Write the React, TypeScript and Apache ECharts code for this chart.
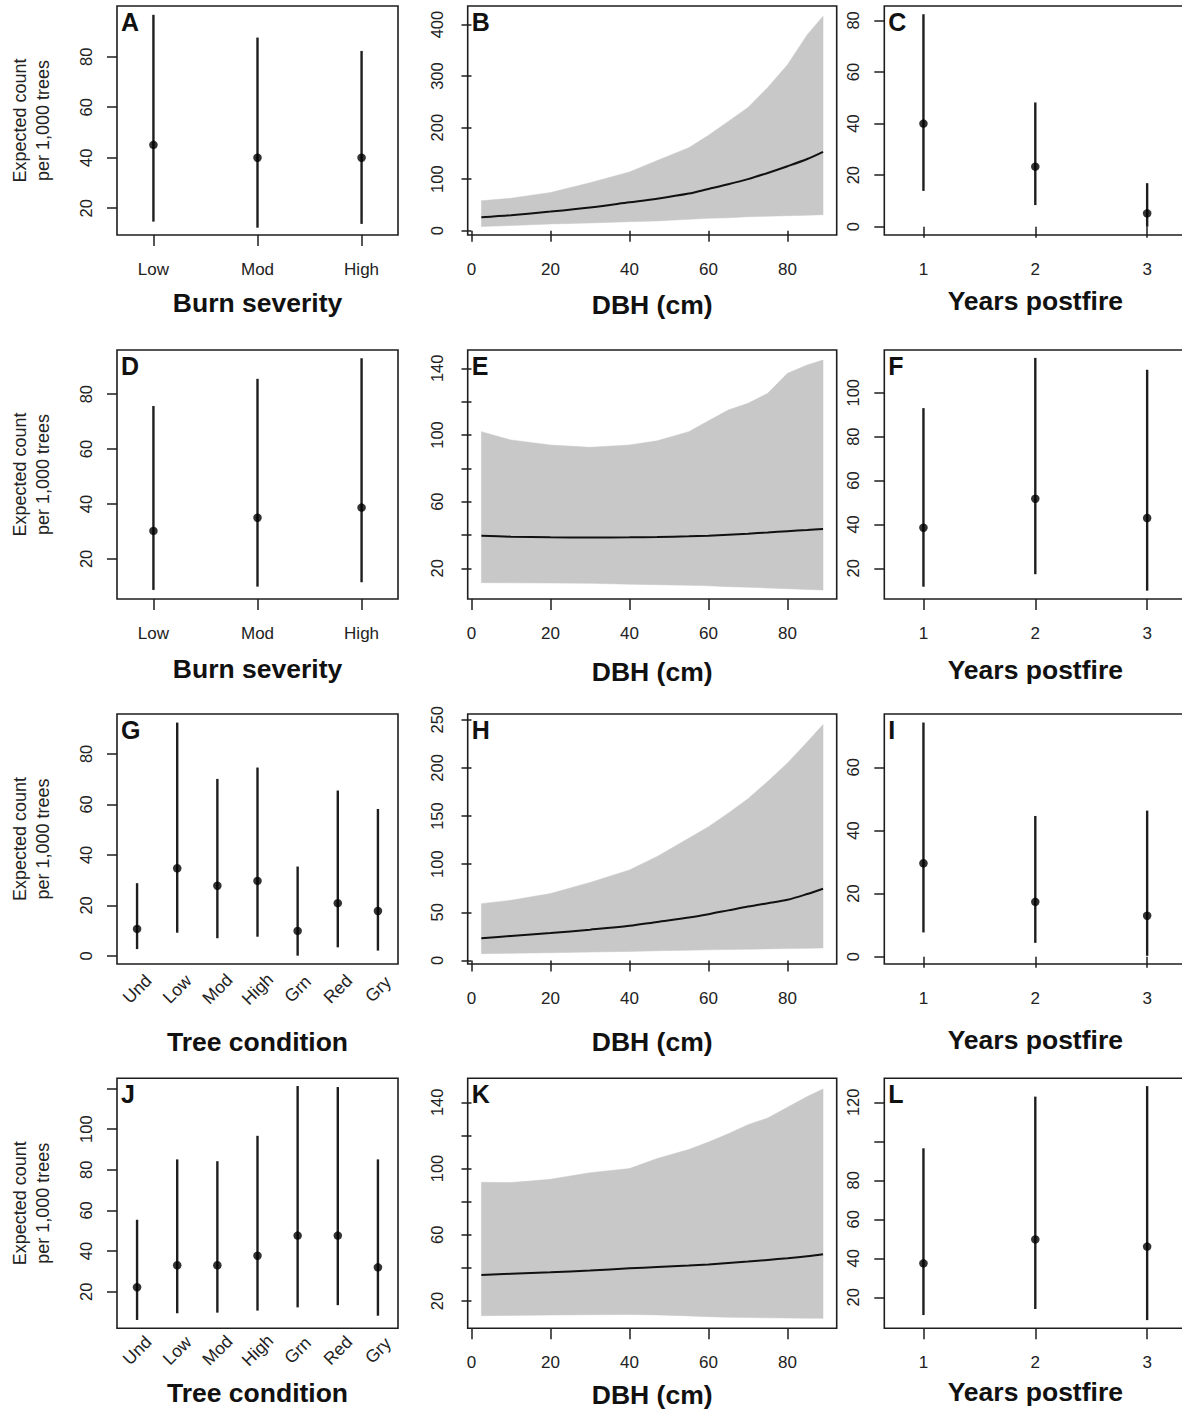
import React, { useEffect, useRef } from 'react';
import * as echarts from 'echarts';

// ---------- DATA ----------
const severityCats = ['Low', 'Mod', 'High'];
const yearCats = ['1', '2', '3'];
const conditionCats = ['Und', 'Low', 'Mod', 'High', 'Grn', 'Red', 'Gry'];

// DBH grid (cm) at which the fitted curves / intervals were read
const dbh = [2.5, 10, 20, 30, 40, 47, 55, 60, 65, 70, 75, 80, 85, 89];

// Panel A: burn severity
const aEst = [45.1, 40.0, 40.0];
const aLo = [14.7, 12.3, 13.8];
const aHi = [96.6, 87.6, 82.3];
// Panel B: DBH
const bMean = [26, 30, 37, 45, 55, 62, 72, 81, 90, 100, 112, 125, 139, 153];
const bLo = [8, 10, 13, 15, 17.5, 19, 22, 24, 25, 27, 28, 29, 30, 31];
const bHi = [58, 63, 74, 93, 114, 136, 161, 185, 212, 239, 278, 322, 380, 416];
// Panel C: years postfire
const cEst = [40.0, 23.3, 5.2];
const cLo = [13.9, 8.4, 0.0];
const cHi = [82.4, 48.2, 16.9];
// Panel D
const dEst = [30.2, 35.0, 38.7];
const dLo = [8.7, 9.9, 11.5];
const dHi = [75.7, 85.6, 93.1];
// Panel E
const eMean = [39.6, 39, 38.6, 38.5, 38.6, 38.8, 39.2, 39.6, 40.2, 40.8, 41.5, 42.3, 43, 43.6];
const eLo = [11.4, 11.3, 11.2, 11, 10.5, 10.2, 9.8, 9.5, 9, 8.7, 8.2, 7.8, 7.3, 7];
const eHi = [102, 97, 94, 92.6, 94, 96.5, 102, 108.5, 115, 119, 125, 137, 142, 145];
// Panel F
const fEst = [38.5, 51.7, 42.9];
const fLo = [11.6, 17.3, 9.8];
const fHi = [93.0, 115.9, 110.5];
// Panel G: tree condition
const gEst = [10.7, 34.7, 27.8, 29.7, 9.9, 20.9, 17.8];
const gLo = [2.7, 9.2, 7.0, 7.6, 0.1, 3.4, 2.1];
const gHi = [28.8, 92.4, 70.1, 74.6, 35.4, 65.5, 58.2];
// Panel H
const hMean = [23, 25.5, 28.4, 32, 36, 40, 44.5, 48, 52, 56, 59.5, 63, 69, 74.5];
const hLo = [7, 7.4, 8, 8.7, 9.4, 10, 10.6, 11, 11.3, 11.6, 12, 12.3, 12.6, 12.9];
const hHi = [59, 62.5, 69.5, 81, 94, 108, 127, 139, 153, 168, 186, 205, 227, 245];
// Panel I
const iEst = [29.6, 17.4, 13.0];
const iLo = [7.7, 4.4, 0.3];
const iHi = [74.2, 44.6, 46.3];
// Panel J
const jEst = [22.2, 33.0, 33.0, 37.7, 47.6, 47.6, 32.0];
const jLo = [6.1, 9.4, 9.7, 10.7, 12.3, 13.4, 8.2];
const jHi = [55.4, 85.1, 84.2, 96.7, 121.2, 120.7, 85.1];
// Panel K
const kMean = [35.7, 36.4, 37.3, 38.4, 39.7, 40.5, 41.4, 42.1, 43, 43.8, 44.8, 45.8, 47, 48.2];
const kLo = [11.1, 11.3, 11.5, 11.7, 11.8, 11.6, 11, 10.5, 10.2, 10, 9.8, 9.7, 9.6, 9.5];
const kHi = [91.7, 91.5, 93.5, 97.5, 100, 106, 111.5, 116, 121, 126.5, 130.5, 137, 143.5, 148];
// Panel L
const lEst = [37.4, 49.7, 46.0];
const lLo = [10.9, 14.0, 8.3];
const lHi = [96.4, 122.9, 128.3];

// tick values / tick labels
const dbhTicks = [0, 20, 40, 60, 80];
const aYTicks = [20, 40, 60, 80];
const bYTicks = [0, 100, 200, 300, 400];
const cYTicks = [0, 20, 40, 60, 80];
const dYTicks = [20, 40, 60, 80];
const eYTicks = [20, 40, 60, 80, 100, 120, 140];
const eYLabels = [20, 60, 100, 140];
const fYTicks = [20, 40, 60, 80, 100];
const gYTicks = [0, 20, 40, 60, 80];
const hYTicks = [0, 50, 100, 150, 200, 250];
const iYTicks = [0, 20, 40, 60];
const jYTicks = [20, 40, 60, 80, 100, 120];
const jYLabels = [20, 40, 60, 80, 100];
const kYTicks = [20, 40, 60, 80, 100, 120, 140];
const kYLabels = [20, 60, 100, 140];
const lYTicks = [20, 40, 60, 80, 100, 120];
const lYLabels = [20, 40, 60, 80, 120];

// ---------- LAYOUT ----------
const colLeft = [117, 467.7, 884.3];
const colWidth = [281, 369, 302];
const rowTop = [6, 350, 714, 1078.3];
const rowHeight = [229, 249, 250, 250];

const FONT = '"Liberation Sans", Arial, Helvetica, sans-serif';
const INK = '#1e1e1e';
const BAND = '#c8c8c8';

type Panel = {
  letter: string;
  row: number;
  col: number;
  kind: 'dot' | 'band';
  cats?: string[];
  est?: number[];
  lo: number[];
  hi: number[];
  mean?: number[];
  yMin: number;
  yMax: number;
  yTicks: number[];
  yLabels: number[];
  xName: string;
  nameGap: number;
  rotate?: boolean;
  catMargin?: number;
};

const panels: Panel[] = [
  { letter: 'A', row: 0, col: 0, kind: 'dot', cats: severityCats, est: aEst, lo: aLo, hi: aHi, yMin: 9.4, yMax: 100.1, yTicks: aYTicks, yLabels: aYTicks, xName: 'Burn severity', nameGap: 68 },
  { letter: 'B', row: 0, col: 1, kind: 'band', mean: bMean, lo: bLo, hi: bHi, yMin: -8.4, yMax: 436, yTicks: bYTicks, yLabels: bYTicks, xName: 'DBH (cm)', nameGap: 70 },
  { letter: 'C', row: 0, col: 2, kind: 'dot', cats: yearCats, est: cEst, lo: cLo, hi: cHi, yMin: -3.2, yMax: 85.6, yTicks: cYTicks, yLabels: cYTicks, xName: 'Years postfire', nameGap: 66 },
  { letter: 'D', row: 1, col: 0, kind: 'dot', cats: severityCats, est: dEst, lo: dLo, hi: dHi, yMin: 5.4, yMax: 96.1, yTicks: dYTicks, yLabels: dYTicks, xName: 'Burn severity', nameGap: 70 },
  { letter: 'E', row: 1, col: 1, kind: 'band', mean: eMean, lo: eLo, hi: eHi, yMin: 1.6, yMax: 151, yTicks: eYTicks, yLabels: eYLabels, xName: 'DBH (cm)', nameGap: 72.7 },
  { letter: 'F', row: 1, col: 2, kind: 'dot', cats: yearCats, est: fEst, lo: fLo, hi: fHi, yMin: 6, yMax: 119.5, yTicks: fYTicks, yLabels: fYTicks, xName: 'Years postfire', nameGap: 71 },
  { letter: 'G', row: 2, col: 0, kind: 'dot', cats: conditionCats, est: gEst, lo: gLo, hi: gHi, yMin: -3.2, yMax: 95.8, yTicks: gYTicks, yLabels: gYTicks, xName: 'Tree condition', nameGap: 77.7, rotate: true, catMargin: 25 },
  { letter: 'H', row: 2, col: 1, kind: 'band', mean: hMean, lo: hLo, hi: hHi, yMin: -3.7, yMax: 256, yTicks: hYTicks, yLabels: hYTicks, xName: 'DBH (cm)', nameGap: 78 },
  { letter: 'I', row: 2, col: 2, kind: 'dot', cats: yearCats, est: iEst, lo: iLo, hi: iHi, yMin: -2.3, yMax: 76.9, yTicks: iYTicks, yLabels: iYTicks, xName: 'Years postfire', nameGap: 76 },
  { letter: 'J', row: 3, col: 0, kind: 'dot', cats: conditionCats, est: jEst, lo: jLo, hi: jHi, yMin: 2, yMax: 125, yTicks: jYTicks, yLabels: jYLabels, xName: 'Tree condition', nameGap: 65, rotate: true, catMargin: 22 },
  { letter: 'K', row: 3, col: 1, kind: 'band', mean: kMean, lo: kLo, hi: kHi, yMin: 3.5, yMax: 154.5, yTicks: kYTicks, yLabels: kYLabels, xName: 'DBH (cm)', nameGap: 66.7 },
  { letter: 'L', row: 3, col: 2, kind: 'dot', cats: yearCats, est: lEst, lo: lLo, hi: lHi, yMin: 4.1, yMax: 132.3, yTicks: lYTicks, yLabels: lYLabels, xName: 'Years postfire', nameGap: 64 },
];

function buildOption() {
  const grid: any[] = [];
  const xAxis: any[] = [];
  const yAxis: any[] = [];
  const series: any[] = [];
  const graphic: any[] = [];

  panels.forEach((p, i) => {
    grid.push({
      left: colLeft[p.col],
      top: rowTop[p.row],
      width: colWidth[p.col],
      height: rowHeight[p.row],
      show: true,
      borderColor: INK,
      borderWidth: 1.6,
      backgroundColor: 'transparent',
      containLabel: false,
      outerBoundsMode: 'none',
    });

    const tickStyle = { color: INK, width: 1.5 };
    const nameStyle = {
      fontFamily: FONT,
      fontSize: 26.5,
      fontWeight: 'bold',
      color: '#111',
      align: 'center',
      verticalAlign: 'middle',
    };

    if (p.kind === 'dot') {
      const cats = p.cats as string[];
      const n = cats.length;
      const idx = cats.map((_, k) => k + 1);
      const isCond = !!p.rotate;
      xAxis.push({
        type: 'value',
        gridIndex: i,
        min: isCond ? 0.5 : 0.65,
        max: isCond ? n + 0.5 : n + 0.35,
        axisLine: { show: false },
        splitLine: { show: false },
        axisTick: { show: !isCond, inside: false, length: 11, lineStyle: tickStyle, customValues: idx },
        axisLabel: isCond
          ? {
              customValues: idx,
              formatter: (v: number) => cats[Math.round(v) - 1],
              rotate: 45,
              align: 'center',
              verticalAlign: 'middle',
              margin: p.catMargin,
              fontFamily: FONT,
              fontSize: 17.5,
              color: '#222',
            }
          : {
              customValues: idx,
              formatter: (v: number) => cats[Math.round(v) - 1],
              align: 'center',
              verticalAlign: 'middle',
              margin: 34,
              fontFamily: FONT,
              fontSize: 17,
              color: '#222',
            },
        name: p.xName,
        nameLocation: 'middle',
        nameGap: p.nameGap,
        nameTextStyle: nameStyle,
      });
    } else {
      xAxis.push({
        type: 'value',
        gridIndex: i,
        min: -0.96,
        max: 92.46,
        axisLine: { show: false },
        splitLine: { show: false },
        axisTick: { show: true, inside: false, length: 11, lineStyle: tickStyle, customValues: dbhTicks },
        axisLabel: {
          customValues: dbhTicks,
          align: 'center',
          verticalAlign: 'middle',
          margin: 34,
          fontFamily: FONT,
          fontSize: 17,
          color: '#222',
        },
        name: p.xName,
        nameLocation: 'middle',
        nameGap: p.nameGap,
        nameTextStyle: nameStyle,
      });
    }

    const y: any = {
      type: 'value',
      gridIndex: i,
      min: p.yMin,
      max: p.yMax,
      axisLine: { show: false },
      splitLine: { show: false },
      axisTick: { show: true, inside: false, length: 10, lineStyle: tickStyle, customValues: p.yTicks },
      axisLabel: {
        customValues: p.yLabels,
        rotate: 90,
        align: 'center',
        verticalAlign: 'middle',
        margin: 31,
        fontFamily: FONT,
        fontSize: 16.5,
        color: '#222',
      },
    };
    if (p.col === 0) {
      y.name = 'Expected count\nper 1,000 trees';
      y.nameLocation = 'middle';
      y.nameRotate = 90;
      y.nameGap = 85.5;
      y.nameTextStyle = {
        fontFamily: FONT,
        fontSize: 18,
        lineHeight: 23.5,
        color: '#222',
        align: 'center',
        verticalAlign: 'middle',
      };
    }
    yAxis.push(y);

    if (p.kind === 'dot') {
      const cats = p.cats as string[];
      const est = p.est as number[];
      series.push({
        type: 'custom',
        xAxisIndex: i,
        yAxisIndex: i,
        z: 2,
        silent: true,
        data: cats.map((_, k) => [k + 1, p.lo[k], p.hi[k]]),
        encode: { x: 0, y: [1, 2] },
        renderItem: (_params: any, api: any) => {
          const x = api.value(0);
          const a = api.coord([x, api.value(1)]);
          const b = api.coord([x, api.value(2)]);
          return {
            type: 'line',
            shape: { x1: a[0], y1: a[1], x2: b[0], y2: b[1] },
            style: { stroke: INK, lineWidth: 2.4 },
          };
        },
      });
      series.push({
        type: 'scatter',
        xAxisIndex: i,
        yAxisIndex: i,
        z: 3,
        silent: true,
        symbol: 'circle',
        symbolSize: 8.5,
        itemStyle: { color: '#000' },
        data: cats.map((_, k) => [k + 1, est[k]]),
      });
    } else {
      const mean = p.mean as number[];
      const lo = p.lo;
      const hi = p.hi;
      // confidence band: one polygon through the upper and lower bounds
      series.push({
        type: 'custom',
        xAxisIndex: i,
        yAxisIndex: i,
        z: 1,
        silent: true,
        data: dbh.map((d, k) => [d, lo[k], hi[k]]),
        encode: { x: 0, y: [1, 2] },
        renderItem: (params: any, api: any) => {
          if (params.dataIndex !== 0) return null;
          const upper = dbh.map((d, k) => api.coord([d, hi[k]]));
          const lower = dbh.map((d, k) => api.coord([d, lo[k]])).reverse();
          return {
            type: 'polygon',
            shape: { points: upper.concat(lower) },
            style: { fill: BAND, stroke: BAND, lineWidth: 0.5 },
          };
        },
      });
      series.push({
        type: 'line',
        xAxisIndex: i,
        yAxisIndex: i,
        symbol: 'none',
        silent: true,
        smooth: 0.3,
        lineStyle: { color: '#111', width: 2 },
        data: dbh.map((d, k) => [d, mean[k]]),
        z: 3,
      });
    }

    graphic.push({
      type: 'text',
      x: colLeft[p.col] + 4,
      y: rowTop[p.row] + 15.5,
      z: 10,
      style: {
        text: p.letter,
        fontFamily: FONT,
        fontSize: 25,
        fontWeight: 'bold',
        fill: '#111',
        align: 'left',
        verticalAlign: 'middle',
      },
    });
  });

  return {
    animation: false,
    backgroundColor: '#ffffff',
    textStyle: { fontFamily: FONT },
    grid,
    xAxis,
    yAxis,
    series,
    graphic,
  };
}

export default function App() {
  const ref = useRef<HTMLDivElement>(null);
  useEffect(() => {
    if (!ref.current) return;
    const chart = echarts.init(ref.current, undefined, { renderer: 'svg' });
    chart.setOption(buildOption() as any);
    return () => chart.dispose();
  }, []);
  return (
    <div
      ref={ref}
      style={{ position: 'absolute', left: 0, top: 0, width: 1182, height: 1409, background: '#fff' }}
    />
  );
}
